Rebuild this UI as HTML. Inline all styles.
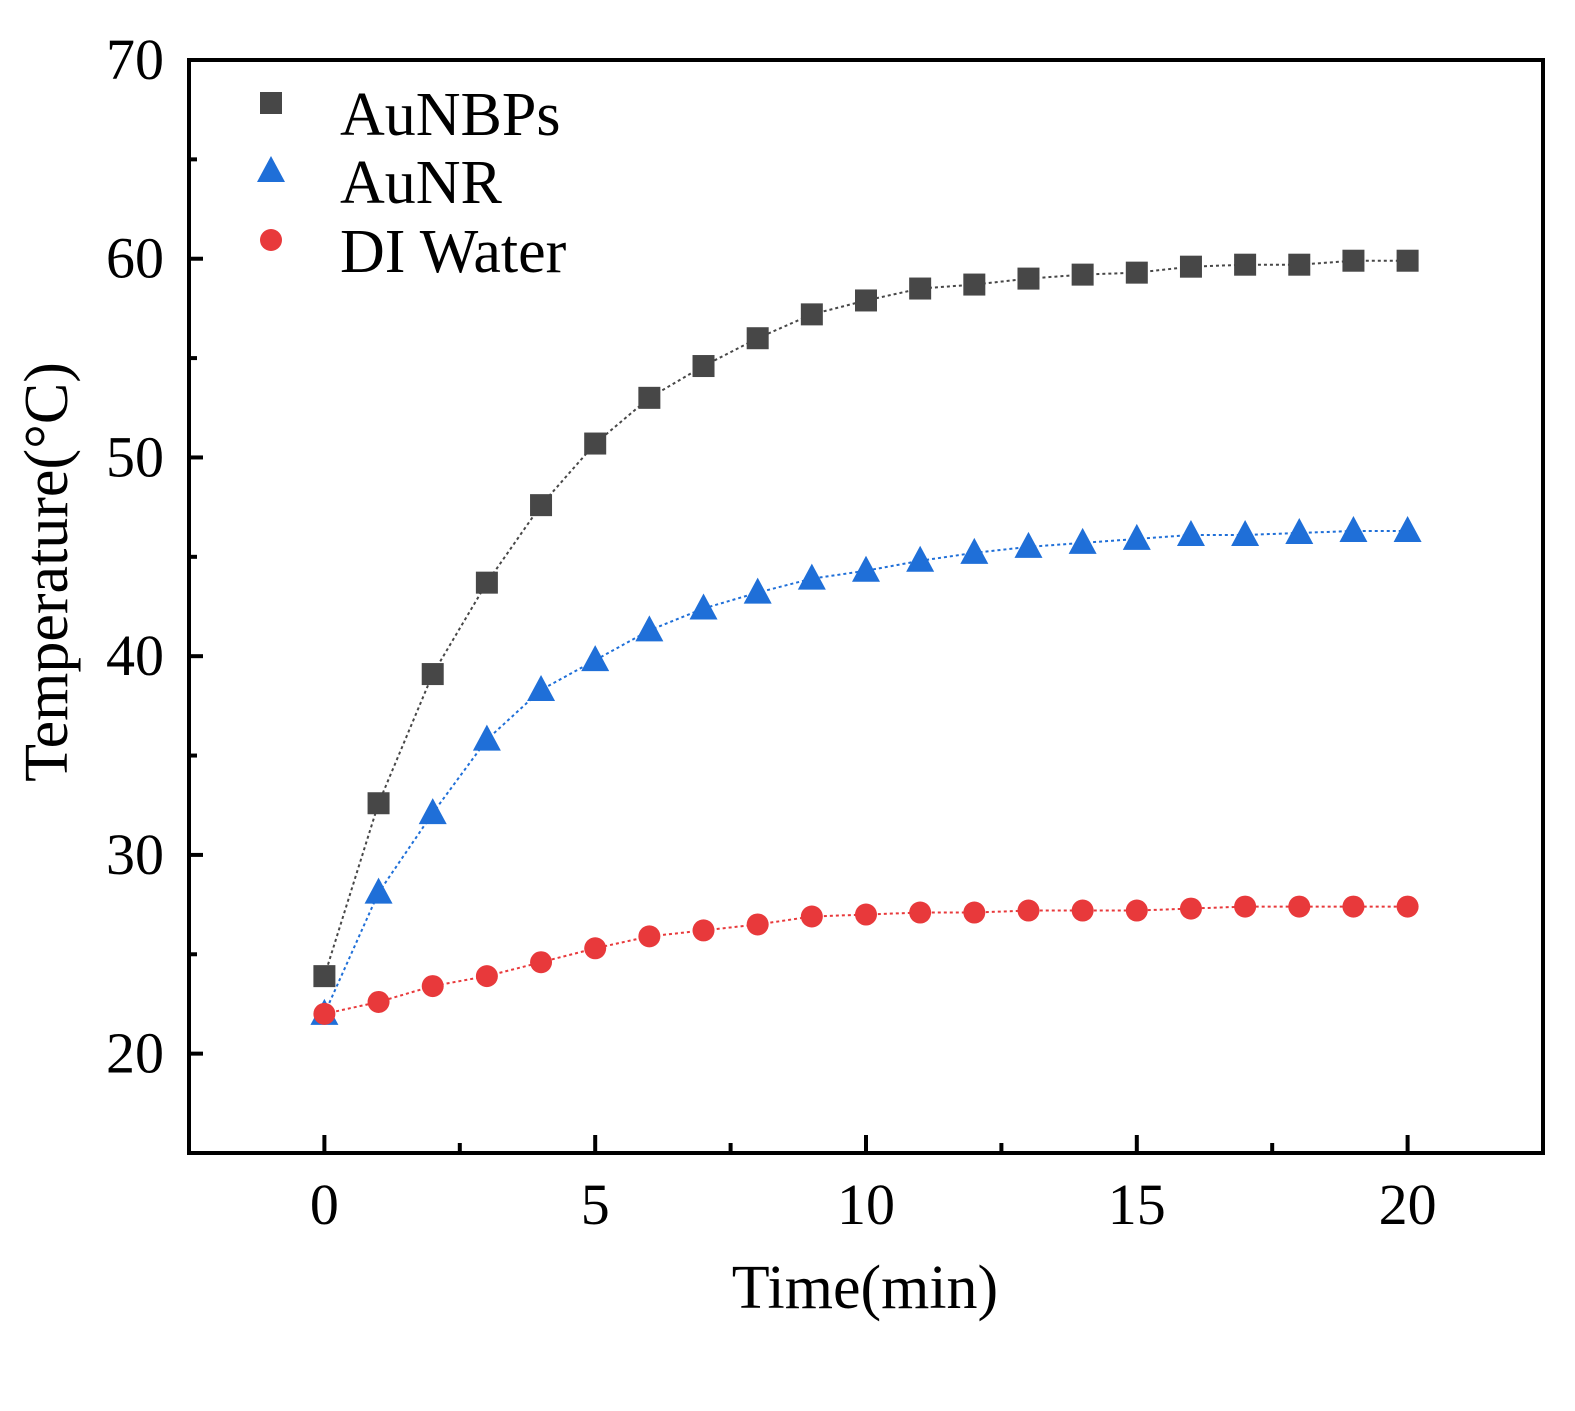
<!DOCTYPE html>
<html><head><meta charset="utf-8"><style>
html,body{margin:0;padding:0;background:#fff;}
svg text{font-family:"Liberation Serif",serif;fill:#000;}
</style></head><body>
<svg id="chart" width="1575" height="1406" viewBox="0 0 1575 1406" xmlns="http://www.w3.org/2000/svg"></svg>
<script>
const times = [0,1,2,3,4,5,6,7,8,9,10,11,12,13,14,15,16,17,18,19,20];
const aunbps = [23.9,32.6,39.1,43.7,47.6,50.7,53.0,54.6,56.0,57.2,57.9,58.5,58.7,59.0,59.2,59.3,59.6,59.7,59.7,59.9,59.9];
const aunr = [22.0,28.1,32.1,35.8,38.3,39.8,41.3,42.4,43.2,43.9,44.3,44.8,45.2,45.5,45.7,45.9,46.1,46.1,46.2,46.3,46.3];
const water = [22.0,22.6,23.4,23.9,24.6,25.3,25.9,26.2,26.5,26.9,27.0,27.1,27.1,27.2,27.2,27.2,27.3,27.4,27.4,27.4,27.4];
const xTicks = [0,5,10,15,20];
const yTicks = [20,30,40,50,60,70];

const L=189,R=1543,T=60,B=1153;
const xMin=-2.5,xMax=22.5,yMin=15,yMax=70;
const X=v=>L+(v-xMin)/(xMax-xMin)*(R-L);
const Y=v=>B-(v-yMin)/(yMax-yMin)*(B-T);
const svg=document.getElementById('chart');
const NS='http://www.w3.org/2000/svg';
function mk(tag,attrs,parent){const e=document.createElementNS(NS,tag);for(const k in attrs)e.setAttribute(k,attrs[k]);(parent||svg).appendChild(e);return e;}

const frame=mk('rect',{x:L,y:T,width:R-L,height:B-T,fill:'none',stroke:'#000','stroke-width':4});



for(let v=15;v<=70;v+=5){
  const major=v%10===0;
  const t=mk('line',{x1:L,x2:L+(major?14:8),y1:Y(v),y2:Y(v),stroke:'#000','stroke-width':4});
  
  
}
yTicks.forEach(v=>{
  const t=mk('text',{x:L-25,y:Y(v)+19,'font-size':58,'text-anchor':'end'});
  t.textContent=v;
  
  
});
for(let v=0;v<=20;v+=2.5){
  const major=v%5===0;
  const t=mk('line',{x1:X(v),x2:X(v),y1:B,y2:B-(major?18:10),stroke:'#000','stroke-width':4});
  
  
}
xTicks.forEach(v=>{
  const t=mk('text',{x:X(v),y:1224,'font-size':58,'text-anchor':'middle'});
  t.textContent=v;
  
  
});
const xt=mk('text',{x:865,y:1308,'font-size':62,'text-anchor':'middle'});
xt.textContent='Time(min)';


const yt=mk('text',{x:0,y:0,'font-size':62,'text-anchor':'middle',transform:'translate(67,572) rotate(-90)'});
yt.textContent='Temperature(°C)';



function marker(type,cx,cy,color,parent){
  if(type==='sq') return mk('rect',{x:cx-11,y:cy-11,width:22,height:22,fill:color},parent);
  if(type==='tri') return mk('polygon',{points:`${cx},${cy-15} ${cx-14},${cy+11} ${cx+14},${cy+11}`,fill:color},parent);
  return mk('circle',{cx:cx,cy:cy,r:11,fill:color},parent);
}
const series=[
  {name:'aunbps',vals:aunbps,color:'#474747',type:'sq'},
  {name:'aunr',vals:aunr,color:'#1f6fd8',type:'tri'},
  {name:'water',vals:water,color:'#e8393b',type:'ci'}
];
series.forEach(s=>{
  const g=mk('g',{});
  
  
  const pts=times.map((t,i)=>X(t)+','+Y(s.vals[i])).join(' ');
  const pl=mk('polyline',{points:pts,fill:'none',stroke:s.color,'stroke-width':2,'stroke-dasharray':'3,3'},g);
  
  
  times.forEach((t,i)=>{
    const m=marker(s.type,X(t),Y(s.vals[i]),s.color,g);
    
    
  });
});
const legend=[['AuNBPs','sq','#474747',115],['AuNR','tri','#1f6fd8',183],['DI Water','ci','#e8393b',252]];
legend.forEach(([lab,type,col,y])=>{
  const g=mk('g',{});
  
  
  marker(type,271,y-12,col,g);
  const t=mk('text',{x:340,y:y+20,'font-size':62},g);
  t.textContent=lab;
});
</script>
</body></html>
